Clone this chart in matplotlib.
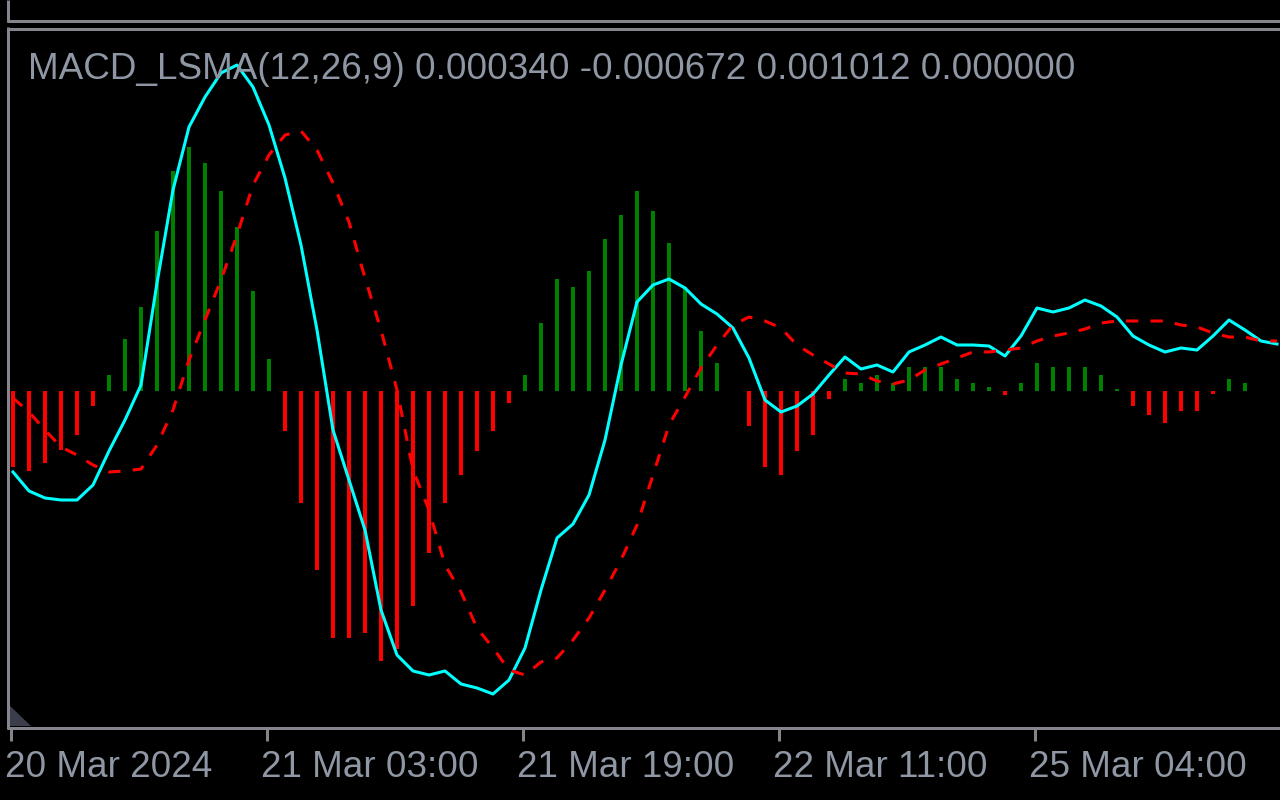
import matplotlib
matplotlib.use('Agg')
import matplotlib.pyplot as plt
import matplotlib.transforms as mtransforms
from matplotlib.lines import Line2D
from matplotlib.patches import Polygon
import numpy as np

# values in units of 1e-5, one per hourly bar
hist = [-76, -80, -72, -59, -44, -15, 16, 52, 84, 160,
        220, 244, 228, 200, 164, 100, 32, -40, -112, -179,
        -247, -247, -242, -270, -258, -215, -162, -112, -84, -60,
        -40, -12, 16, 68, 112, 104, 120, 152, 176, 200,
        180, 148, 104, 60, 28, 0, -35, -76, -84, -60,
        -44, -8, 12, 8, 16, 8, 24, 24, 24, 12,
        8, 4, -4, 8, 28, 24, 24, 24, 16, 2,
        -15, -24, -32, -20, -20, -3, 12, 8, 0, 0]
macd = [-81, -100, -107, -109, -109, -94, -60, -29, 6, 108,
        201, 264, 294, 318, 326, 304, 266, 213, 146, 61,
        -39, -89, -139, -219, -264, -280, -284, -280, -293, -297,
        -303, -289, -257, -199, -147, -133, -104, -49, 26, 89,
        106, 112, 103, 87, 77, 63, 33, -9, -21, -15,
        -3, 16, 34, 22, 26, 19, 39, 46, 54, 46,
        46, 45, 35, 55, 83, 79, 83, 91, 85, 74,
        55, 46, 39, 43, 41, 55, 71, 61, 50, 47]
signal = [-7, -21, -39, -56, -64, -74, -81, -80, -78, -54,
          -19, 31, 71, 111, 156, 206, 236, 256, 260, 241,
          208, 169, 113, 61, 1, -79, -119, -174, -201, -237,
          -257, -279, -284, -271, -267, -249, -227, -199, -169, -134,
          -84, -34, -6, 23, 46, 66, 74, 70, 63, 46,
          36, 27, 18, 17, 10, 7, 11, 21, 27, 33,
          39, 39, 41, 43, 50, 55, 58, 62, 68, 70,
          70, 70, 70, 66, 64, 58, 54, 54, 50, 50]
tick_bars = [0, 16, 32, 48, 64]
tick_labels = ['20 Mar 2024', '21 Mar 03:00', '21 Mar 19:00', '22 Mar 11:00', '25 Mar 04:00']
title = 'MACD_LSMA(12,26,9) 0.000340 -0.000672 0.001012 0.000000'

W, H = 1280, 800
grey = '#85858d'
txtc = '#8e97a3'
font = 'Liberation Sans'

fig = plt.figure(figsize=(12.8, 8), dpi=100, facecolor='black')
ax = fig.add_axes([9/W, 1-726/H, (W-9)/W, (726-30)/H])
ax.set_facecolor('black')

x = np.arange(len(hist))
h = np.array(hist)*1e-5
cols = ['#008000' if v > 0 else '#ff0000' for v in hist]
ax.bar(x, h, width=0.25, color=cols, linewidth=0)
ax.plot(x, np.array(macd)*1e-5, color='#00ffff', lw=2.2)
ax.plot(x, np.array(signal)*1e-5, color='#ff0000', lw=2.2, dashes=(4, 4))
ax.set_xlim((9-13)/16, (W-13)/16)
ax.set_ylim(-335e-5, 361e-5)
ax.axis('off')

def px(xp, yp):
    return xp/W, 1-yp/H

def fline(x0, y0, x1, y1):
    a = px(x0, y0)
    b = px(x1, y1)
    fig.add_artist(Line2D([a[0], b[0]], [a[1], b[1]], transform=fig.transFigure,
                          lw=2.16, color=grey, solid_capstyle='butt'))

# window frames
fline(7, 20.5, W, 20.5)
fline(8, 0, 8, 22)
fline(7, 28.5, W, 28.5)
fline(8, 27, 8, 729)
fline(7, 727.5, W, 727.5)

# corner grip
fig.add_artist(Polygon([px(9, 705), px(9, 726), px(31, 726)], closed=True,
                       transform=fig.transFigure, color='#3b3e4a', lw=0))

# time ticks and labels
trans = mtransforms.blended_transform_factory(ax.transData, fig.transFigure)
lab_trans = mtransforms.offset_copy(trans, fig=fig, x=-6, y=0, units='dots')
for b, lab in zip(tick_bars, tick_labels):
    fig.add_artist(Line2D([b-0.1, b-0.1], [1-729/H, 1-741/H], transform=trans,
                          lw=2.16, color=grey, solid_capstyle='butt'))
    fig.text(b-0.1, 1-777/H, lab, transform=lab_trans, ha='left', va='baseline',
             color=txtc, fontsize=26.6, family=font)

fig.text(28/W, 1-79/H, title, ha='left', va='baseline', color=txtc,
         fontsize=26.6, family=font)

fig.savefig('out.png', dpi=100, facecolor='black')
